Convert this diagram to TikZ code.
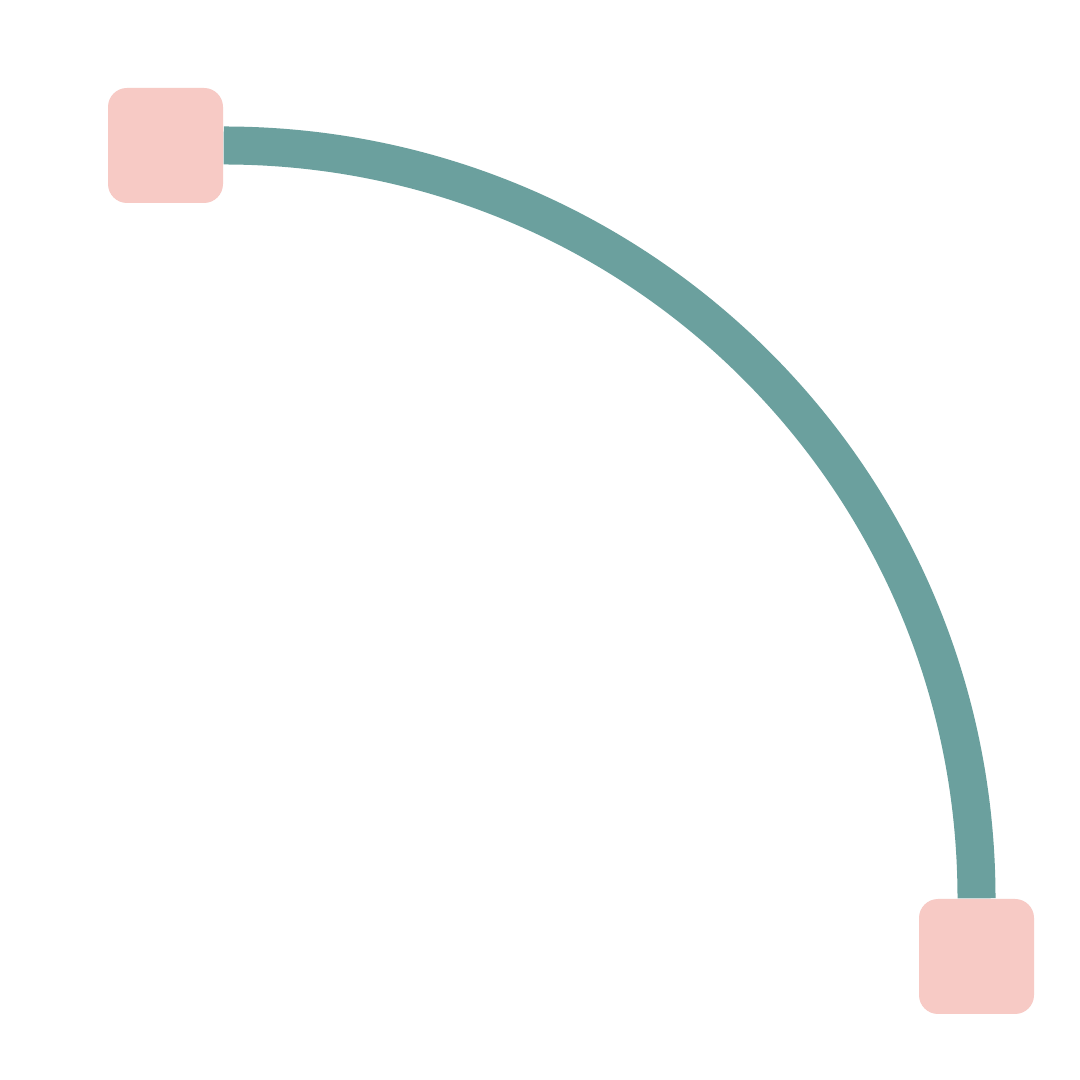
\documentclass[tikz,border=0pt]{standalone}
\usetikzlibrary{backgrounds}
\definecolor{boxpink}{HTML}{F7CAC5}
\definecolor{arcteal}{HTML}{6BA09E}
\begin{document}
\begin{tikzpicture}[
  box/.style={fill=boxpink, draw=none, rounded corners=0.19cm, minimum width=1.15cm, minimum height=1.15cm, inner sep=0pt},
  link/.style={draw=arcteal, line width=0.38cm}
]
\useasboundingbox (0,0) rectangle (10.8,10.8);
\node[box] (a) at (1.655,9.345) {};
\node[box] (b) at (9.765,1.235) {};
\begin{scope}[on background layer]
\fill[white] (0,0) rectangle (10.8,10.8);
\draw[link] (a.east) to[out=0,in=90] (b.north);
\end{scope}
\end{tikzpicture}
\end{document}
